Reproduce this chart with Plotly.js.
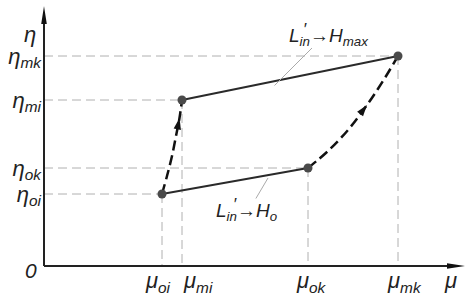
<!DOCTYPE html>
<html><head><meta charset="utf-8">
<script src="https://cdn.plot.ly/plotly-3.0.1.min.js"></script>
<style>html,body{margin:0;padding:0;background:#fff}</style>
</head><body><div id="chart" style="width:473px;height:298px"></div>
<script>
// ---- data ----
const pointNames = ['oi', 'mi', 'ok', 'mk'];
const mu = [118, 138, 264, 354];
const eta = [72, 166, 98, 210];
const muLabels = ['μ<sub>oi</sub>', 'μ<sub>mi</sub>', 'μ<sub>ok</sub>', 'μ<sub>mk</sub>'];
const etaLabels = ['η<sub>oi</sub>', 'η<sub>mi</sub>', 'η<sub>ok</sub>', 'η<sub>mk</sub>'];
const lowerLineLabel = 'L<sub>in</sub>→H<sub>o</sub>';
const upperLineLabel = 'L<sub>in</sub>→H<sub>max</sub>';
// transition curves (oi -> mi, ok -> mk)
const curveInitX = [118, 123, 128, 132, 135.5, 138];
const curveInitY = [72, 90, 110, 130, 148, 166];
const curveFinX = [264, 284, 304, 323, 339, 354];
const curveFinY = [98, 115, 136, 161, 185, 210];
const curveInitArrowIdx = 4;
const curveFinArrowIdx = 3;

// ---- build ----
const FONT = 'Liberation Sans, Arial, sans-serif';
const TXT = '#222';
const X_MAX = 419, Y_MAX = 253;
const PW = 419, PH = 253; // plot area size in px

const gx = [], gy = [];
for (let i = 0; i < mu.length; i++) {
  gx.push(0, mu[i], null, mu[i], mu[i], null);
  gy.push(eta[i], eta[i], null, eta[i], 0, null);
}
const iOi = 0, iMi = 1, iOk = 2, iMk = 3;

function arrowTrace(xs, ys, k) {
  // 1 data unit == 1 px on both axes, so the direction angle is direct
  const dx = xs[k] - xs[k - 1], dy = ys[k] - ys[k - 1];
  const ang = Math.atan2(dx, dy) * 180 / Math.PI;
  return {x: [xs[k]], y: [ys[k]], mode: 'markers', cliponaxis: false,
    marker: {symbol: 'arrow', size: 12, angle: ang, color: '#111', line: {width: 0}}};
}

const traces = [
  {x: gx, y: gy, mode: 'lines', line: {color: '#b0b0b0', width: 1, dash: '9px,5px'}, hoverinfo: 'skip'},
  {x: [mu[iOi], mu[iOk]], y: [eta[iOi], eta[iOk]], mode: 'lines', line: {color: '#2a2a2a', width: 2}},
  {x: [mu[iMi], mu[iMk]], y: [eta[iMi], eta[iMk]], mode: 'lines', line: {color: '#2a2a2a', width: 2}},
  {x: curveInitX, y: curveInitY, mode: 'lines', line: {color: '#111', width: 2.5, dash: '10px,5px', shape: 'spline', smoothing: 1}},
  {x: curveFinX, y: curveFinY, mode: 'lines', line: {color: '#111', width: 2.5, dash: '10px,5px', shape: 'spline', smoothing: 1}},
  {x: mu, y: eta, mode: 'markers', marker: {color: '#4a4a4a', size: 9}},
  arrowTrace(curveInitX, curveInitY, curveInitArrowIdx),
  arrowTrace(curveFinX, curveFinY, curveFinArrowIdx)
];

const muShift = [-4, 16, 3, 6];
const annotations = [];
for (let i = 0; i < mu.length; i++) {
  annotations.push({x: mu[i], y: 0, xref: 'x', yref: 'y', text: '<i>' + muLabels[i] + '</i>', showarrow: false,
    xanchor: 'center', yanchor: 'top', xshift: muShift[i], yshift: 0,
    font: {family: FONT, size: 22, color: TXT}});
}
annotations.push(
  {x: X_MAX, y: 0, xref: 'x', yref: 'y', text: '<i>μ</i>', showarrow: false, xanchor: 'right', yanchor: 'top', xshift: -4, yshift: 0, font: {family: FONT, size: 22, color: TXT}},
  {x: 0, y: Y_MAX, xref: 'x', yref: 'y', text: '<i>η</i>', showarrow: false, xanchor: 'right', yanchor: 'top', xshift: -6, yshift: -7, font: {family: FONT, size: 22, color: TXT}},
  {x: 0, y: 0, xref: 'x', yref: 'y', text: '<i>0</i>', showarrow: false, xanchor: 'right', yanchor: 'middle', xshift: -5, yshift: -4, font: {family: FONT, size: 21, color: TXT}},
  {x: 202, y: 54, xref: 'x', yref: 'y', text: '<i>' + lowerLineLabel + '</i>', showarrow: false, font: {family: FONT, size: 19, color: TXT}},
  {x: 191, y: 62, xref: 'x', yref: 'y', text: '<i>′</i>', showarrow: false, font: {family: FONT, size: 17, color: TXT}},
  {x: 285, y: 229, xref: 'x', yref: 'y', text: '<i>' + upperLineLabel + '</i>', showarrow: false, font: {family: FONT, size: 19, color: TXT}},
  {x: 261, y: 237, xref: 'x', yref: 'y', text: '<i>′</i>', showarrow: false, font: {family: FONT, size: 17, color: TXT}},
  {x: 268, y: 218, ax: 229, ay: 179, xref: 'x', yref: 'y', axref: 'x', ayref: 'y', text: '', showarrow: true, arrowhead: 0, arrowwidth: 1, arrowcolor: '#aaa'},
  {x: 224, y: 88, ax: 211, ay: 66, xref: 'x', yref: 'y', axref: 'x', ayref: 'y', text: '', showarrow: true, arrowhead: 0, arrowwidth: 1, arrowcolor: '#aaa'}
);

// axis arrows in paper units (px converted by plot size)
const xTip = 1 + 2 / PW, xBase = xTip - 18 / PW, xHalf = 2.8 / PH;
const yTip = 1 + 7 / PH, yBase = yTip - 18 / PH, yHalf = 2.8 / PW;
const shapes = [
  {type: 'line', xref: 'paper', yref: 'paper', x0: 0, y0: 0, x1: xBase + 2 / PW, y1: 0, line: {color: '#222', width: 2}},
  {type: 'line', xref: 'paper', yref: 'paper', x0: 0, y0: 0, x1: 0, y1: yBase + 2 / PH, line: {color: '#222', width: 2}},
  {type: 'path', xref: 'paper', yref: 'paper',
   path: `M${xTip},0 L${xBase},${xHalf} L${xBase},${-xHalf} Z`, fillcolor: '#111', line: {width: 0}},
  {type: 'path', xref: 'paper', yref: 'paper',
   path: `M0,${yTip} L${yHalf},${yBase} L${-yHalf},${yBase} Z`, fillcolor: '#111', line: {width: 0}}
];

const layout = {
  width: 473, height: 298,
  margin: {l: 44, r: 10, t: 13, b: 32, pad: 0},
  paper_bgcolor: '#fff', plot_bgcolor: '#fff',
  showlegend: false,
  xaxis: {range: [0, X_MAX], showgrid: false, zeroline: false, showline: false, showticklabels: false, ticks: '', fixedrange: true},
  yaxis: {range: [0, Y_MAX], showgrid: false, zeroline: false, showline: false, ticks: '',
    tickvals: eta, ticktext: etaLabels.map(t => '<i>' + t + '</i>'), ticklabelstandoff: 2,
    tickfont: {family: FONT, size: 22, color: TXT}, fixedrange: true},
  annotations: annotations,
  shapes: shapes
};

Plotly.newPlot('chart', traces, layout, {displayModeBar: false, staticPlot: true});
</script>
</body></html>
